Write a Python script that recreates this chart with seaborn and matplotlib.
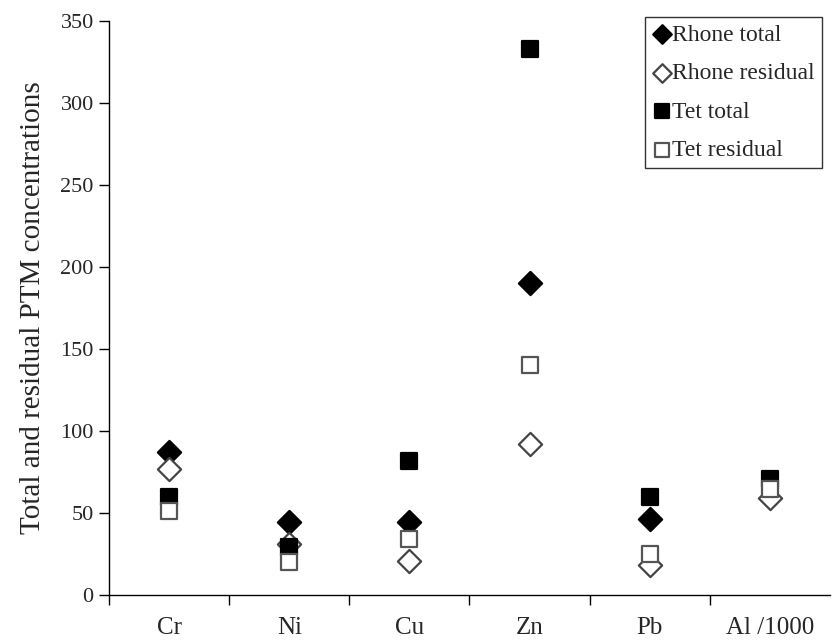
import matplotlib
matplotlib.use("Agg")
import matplotlib.pyplot as plt
import seaborn as sns
import pandas as pd
import numpy as np

# data (Rhone total for Al is hidden / not visible)
elements = ["Cr", "Ni", "Cu", "Zn", "Pb", "Al /1000"]
rhone_total = [87, 44.5, 44.5, 190, 46.5, np.nan]
rhone_residual = [77, 31, 21, 92, 18, 59]
tet_total = [59.5, 29, 81.5, 333, 60, 71]
tet_residual = [51.5, 20, 34, 140, 25, 64.5]

sns.set_style("white")
plt.rcParams["font.family"] = ["Liberation Serif", "DejaVu Serif"]

fig = plt.figure(figsize=(8.32, 6.41), dpi=100)
ax = fig.add_axes([0.131, 0.0718, 0.8666, 0.8955])

series = [
    ("Rhone total", rhone_total, "D", "black", "black"),
    ("Rhone residual", rhone_residual, "D", "white", "#444444"),
    ("Tet total", tet_total, "s", "black", "black"),
    ("Tet residual", tet_residual, "s", "white", "#555555"),
]

for name, vals, mk, fc, ec in series:
    df = pd.DataFrame({"element": elements, "value": vals})
    sns.scatterplot(data=df, x="element", y="value", marker=mk, color=fc,
                    edgecolor=ec, linewidth=1.6, s=140, ax=ax,
                    label=name, zorder=3)

ax.set_xlim(-0.5, 5.5)
ax.set_ylim(0, 350)
ax.set_yticks(range(0, 351, 50))
ax.set_xticks(range(len(elements)))
ax.set_xticklabels(elements)
ax.set_xticks([i + 0.5 for i in range(-1, 5)], minor=True)
ax.tick_params(axis="x", which="major", bottom=True, length=0, pad=16, labelsize=18)
ax.tick_params(axis="x", which="minor", bottom=True, length=7, width=1,
               direction="out", color="black")
ax.tick_params(axis="y", left=True, length=7, width=1, direction="out",
               color="black", labelsize=16, pad=4)
ax.set_xlabel("")
ax.set_ylabel("Total and residual PTM concentrations", fontsize=21, labelpad=10)

for side in ["top", "right"]:
    ax.spines[side].set_visible(False)
for side in ["left", "bottom"]:
    ax.spines[side].set_color("black")
    ax.spines[side].set_linewidth(1)

leg = ax.legend(loc="upper right", bbox_to_anchor=(0.989, 1.007), fontsize=17,
                frameon=True, fancybox=False, handletextpad=0.05,
                borderpad=0.3, labelspacing=0.72, handlelength=0.8,
                markerscale=0.8, borderaxespad=0)
leg.get_frame().set_edgecolor("black")
leg.get_frame().set_linewidth(1)

plt.savefig("out.png", dpi=100)
